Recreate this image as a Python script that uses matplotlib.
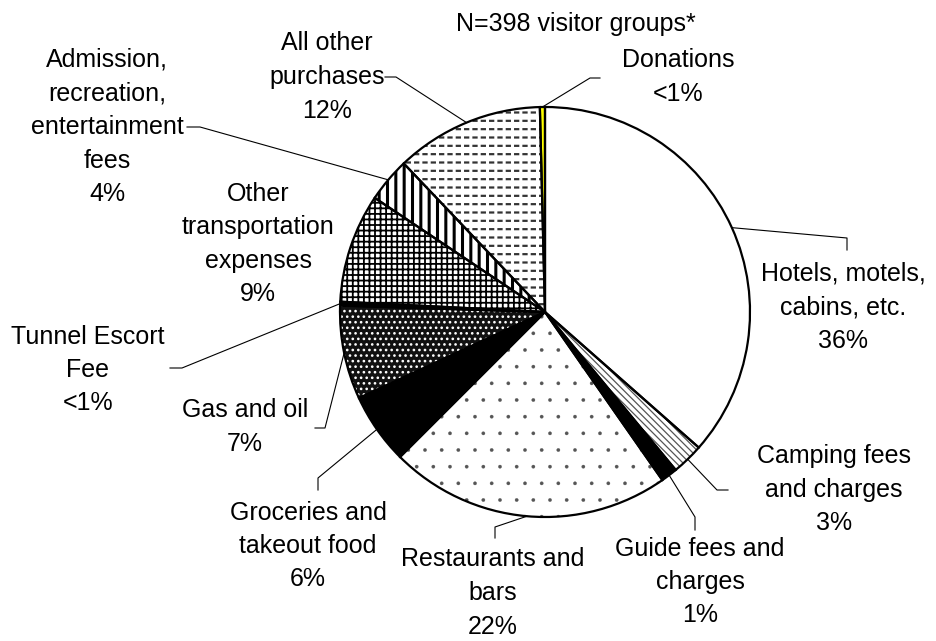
import numpy as np
import matplotlib.pyplot as plt

plt.rcParams['font.family'] = ['Liberation Sans', 'DejaVu Sans']

# visitor group spending shares, clockwise from 12 o'clock
categories = ['Hotels, motels,\ncabins, etc.', 'Camping fees\nand charges',
              'Guide fees and\ncharges', 'Restaurants and\nbars',
              'Groceries and\ntakeout food', 'Gas and oil', 'Tunnel Escort\nFee',
              'Other\ntransportation\nexpenses',
              'Admission,\nrecreation,\nentertainment\nfees',
              'All other\npurchases', 'Donations']
shares = [36.5, 2.5, 1.3, 22.2, 5.6, 7.4, 0.3, 8.6, 3.5, 11.7, 0.4]
pct_labels = ['36%', '3%', '1%', '22%', '6%', '7%', '<1%', '9%', '4%', '12%', '<1%']
title = 'N=398 visitor groups*'

W, H = 936, 641

# fill, hatch, hatch colour, hatch width
styles = [
    ('white', None, 'black', 1.0),
    ('white', '\\\\\\\\\\', '#555555', 0.9),
    ('black', None, 'black', 1.0),
    ('white', '.', '#555555', 0.2),
    ('black', None, 'black', 1.0),
    ('#111111', '...', 'white', 1.1),
    ('black', None, 'black', 1.0),
    ('white', '+++', 'black', 1.3),
    ('white', '||', 'black', 2.2),
    ('white', '--', '#333333', 1.6),
    ('#ffff00', None, '#ffff00', 1.0),
]

# label centre (px, y down) and leader elbow / end, None = no leader
label_pos = [(843, 307), (834, 490), (700, 582), (493, 593), (308, 546),
             (245, 427), (88, 370), (258, 244), (107, 127), (327, 77), (678, 77)]
leaders = [((847, 238), (847, 250)), ((717, 490), (728, 490)),
           ((695, 517), (695, 530)), ((495, 527), (495, 538)),
           ((318, 478), (318, 490)), ((325, 428), (315, 428)),
           ((182, 368), (170, 368)), None, ((200, 127), (187, 127)),
           ((396, 77), (385, 77)), ((590, 78), (600, 78))]

fig = plt.figure(figsize=(9.36, 6.41), dpi=100)
ax = fig.add_axes([0, 0, 1, 1])

cx, cy, r = 545, H - 312, 205

# fills + hatches
wedges, _ = ax.pie(shares, startangle=90, counterclock=False, center=(cx, cy),
                   radius=r, frame=True)
for w, (fc, hatch, hc, hlw) in zip(wedges, styles):
    w.set_facecolor(fc)
    w.set_edgecolor(hc)
    w.set_linewidth(0)
    if hatch:
        w.set_hatch(hatch)
        if hasattr(w, 'set_hatch_linewidth'):
            w.set_hatch_linewidth(hlw)

# white breaks to turn the "all other" lines into dashes
breaks, _ = ax.pie(shares, startangle=90, counterclock=False, center=(cx, cy),
                   radius=r, frame=True, wedgeprops=dict(fill=False, linewidth=0))
for i, w in enumerate(breaks):
    if i == 9:
        w.set_hatch('||')
        w.set_edgecolor('white')
        if hasattr(w, 'set_hatch_linewidth'):
            w.set_hatch_linewidth(2.2)
    else:
        w.set_visible(False)

# outlines
ax.pie(shares, startangle=90, counterclock=False, center=(cx, cy), radius=r,
       frame=True, wedgeprops=dict(fill=False, edgecolor='black', linewidth=1.6))

for i, w in enumerate(wedges):
    txt = categories[i] + '\n' + pct_labels[i]
    lx, ly = label_pos[i]
    ax.text(lx, H - ly, txt, ha='center', va='center', fontsize=18,
            linespacing=1.5)
    if leaders[i] is None:
        continue
    mid = np.deg2rad((w.theta1 + w.theta2) / 2)
    sx, sy = cx + r * np.cos(mid), cy + r * np.sin(mid)
    (ex, ey), (fx, fy) = leaders[i]
    ax.plot([sx, ex, fx], [sy, H - ey, H - fy], color='black', linewidth=0.8)

ax.text(576, H - 24, title, ha='center', va='center', fontsize=18)

ax.set_xlim(0, W)
ax.set_ylim(0, H)
ax.set_aspect('equal')
ax.axis('off')

fig.savefig('out.png', dpi=100)
